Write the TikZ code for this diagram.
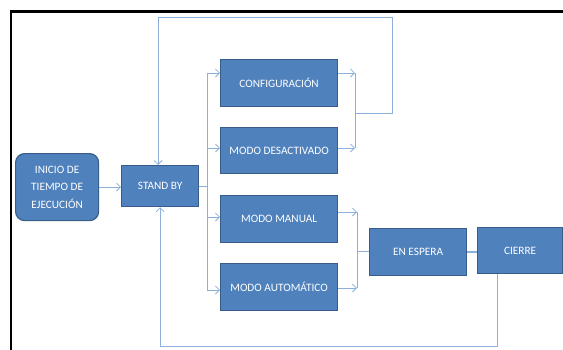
\documentclass[tikz,border=0pt]{standalone}
\usepackage{fontspec}
\setmainfont{Carlito}
\usetikzlibrary{arrows.meta,calc}
\definecolor{boxblue}{HTML}{4F81BD}
\definecolor{boxedge}{HTML}{385D8A}
\definecolor{linkblue}{HTML}{8DB0DB}
\begin{document}
\begin{tikzpicture}[x=1pt,y=-1pt,
  box/.style={rectangle,fill=boxblue,draw=boxedge,line width=1.2pt,text=white,
    font=\fontsize{11.3}{17.5}\selectfont,anchor=north west,inner sep=0pt,align=center},
  link/.style={draw=linkblue,line width=0.8pt},
  arr/.style={link,-{Straight Barb[length=4pt,width=8pt]}}]
\useasboundingbox (0,0) rectangle (563,349);
\draw[line width=2.6pt] (11,352) -- (11,11.5) -- (566,11.5);
\node[box,rounded corners=9pt,minimum width=83pt,minimum height=67pt] (inicio) at (15,153) {INICIO DE\\TIEMPO DE\\EJECUCIÓN};
\node[box,minimum width=77pt,minimum height=41pt] (stand) at (121,165) {STAND BY};
\node[box,minimum width=117pt,minimum height=47pt] (conf) at (220,59) {CONFIGURACIÓN};
\node[box,minimum width=117pt,minimum height=46pt] (desac) at (220,127) {MODO DESACTIVADO};
\node[box,minimum width=117pt,minimum height=47pt] (manual) at (220,195) {MODO MANUAL};
\node[box,minimum width=117pt,minimum height=47pt] (auto) at (220,263) {MODO AUTOMÁTICO};
\node[box,minimum width=97pt,minimum height=47pt] (espera) at (369,228) {EN ESPERA};
\node[box,minimum width=85pt,minimum height=46pt] (cierre) at (477,227) {CIERRE};
% left bus
\coordinate (c1) at (207,73);
\coordinate (c2) at (207,148);
\coordinate (c3) at (207,217);
\coordinate (c4) at (207,290);
\draw[arr] (inicio.east) -- (inicio.east -| stand.west);
\draw[link] (stand.east) -- (stand.east -| c1);
\draw[link] (c1) -- (c4);
\draw[arr] (c1) -- (c1 -| conf.west);
\draw[arr] (c2) -- (c2 -| desac.west);
\draw[arr] (c3) -- (c3 -| manual.west);
\draw[arr] (c4) -- (c4 -| auto.west);
% upper right join and loop back
\coordinate (r1) at (355,73);
\coordinate (r2) at (355,148);
\coordinate (rm) at (355,113);
\coordinate (lt) at (392,17);
\draw[arr] (conf.east |- r1) -- (r1);
\draw[arr] (desac.east |- r2) -- (r2);
\draw[link] (r1) -- (r2);
\draw[arr] (rm) -| (lt) -| ($(stand.north)+(-2,0)$);
% lower right join
\coordinate (m1) at (357,212);
\coordinate (m2) at (357,288);
\coordinate (mm) at (357,251);
\draw[arr] (manual.east |- m1) -- (m1);
\draw[arr] (auto.east |- m2) -- (m2);
\draw[link] (m1) -- (m2);
\draw[link] (mm) -- (mm -| espera.west);
\draw[link,line width=1.6pt] (espera.east) -- (espera.east -| cierre.west);
% return from CIERRE
\draw[arr] ($(cierre.south west)+(20,0)$) |- ($(stand.south)+(0,139)$) -- (stand.south);
\end{tikzpicture}
\end{document}
